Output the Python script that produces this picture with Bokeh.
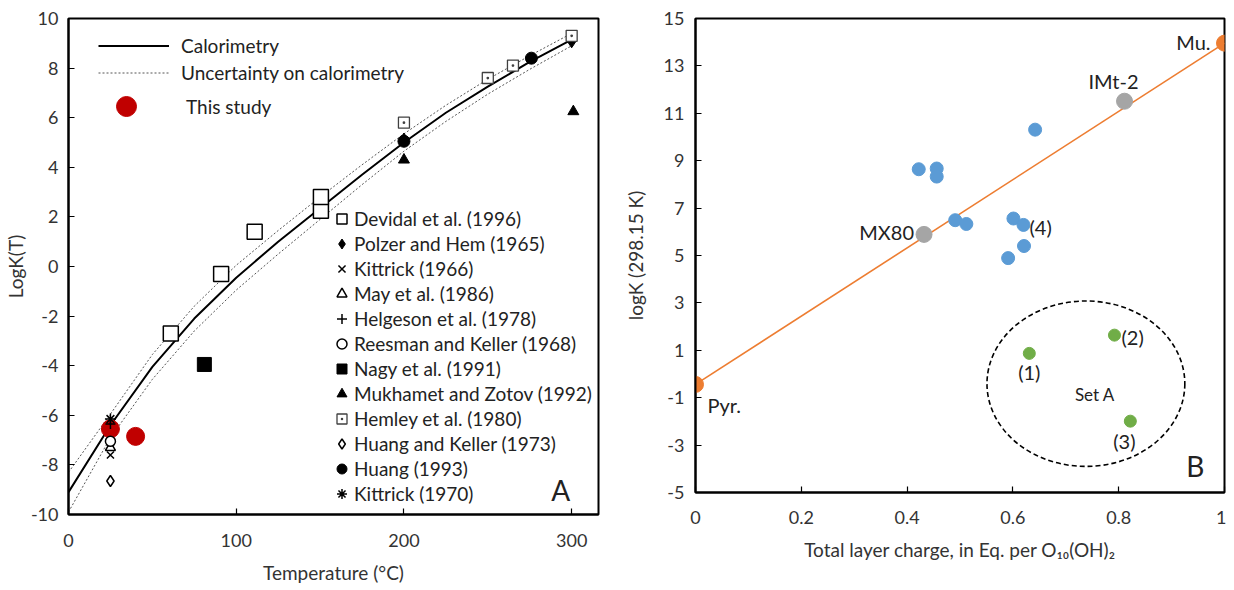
from bokeh.plotting import figure
from bokeh.layouts import row
from bokeh.models import Legend, LegendItem, FixedTicker, Label, ColumnDataSource
from bokeh.core.properties import value
from bokeh.embed import file_html
from bokeh.resources import INLINE

FONT = "Lato"

# ---------------- Panel A data ----------------
calo_T = [0, 25, 50, 75, 100, 125, 150, 175, 200, 225, 250, 275, 300]
calo_logK = [-9.1, -6.4, -4.05, -2.1, -0.45, 1.0, 2.35, 3.7, 5.0, 6.2, 7.25, 8.25, 9.15]
upper_logK = [-8.3, -5.95, -3.55, -1.6, 0.05, 1.45, 2.8, 4.1, 5.35, 6.5, 7.55, 8.5, 9.4]
lower_logK = [-9.9, -6.9, -4.55, -2.6, -0.95, 0.5, 1.9, 3.3, 4.65, 5.85, 6.95, 7.95, 8.9]

devidal_T = [61, 91, 111, 150.5, 150.5]
devidal_logK = [-2.7, -0.3, 1.4, 2.25, 2.8]
polzer_T = [200, 300]
polzer_logK = [5.1, 9.1]
kittrick66_T = [25]
kittrick66_logK = [-7.6]
may_T = [25]
may_logK = [-7.3]
helgeson_T = [25]
helgeson_logK = [-6.35]
reesman_T = [25]
reesman_logK = [-7.05]
nagy_T = [81]
nagy_logK = [-3.95]
mukhamet_T = [200, 301]
mukhamet_logK = [4.3, 6.25]
hemley_T = [200, 250, 265, 300]
hemley_logK = [5.8, 7.6, 8.1, 9.3]
huangkeller_T = [25]
huangkeller_logK = [-8.65]
huang93_T = [200, 276]
huang93_logK = [5.05, 8.4]
kittrick70_T = [25]
kittrick70_logK = [-6.15]
study_T = [25, 40]
study_logK = [-6.55, -6.85]

A_xticks = [0, 100, 200, 300]
A_yticks = list(range(-10, 11, 2))

# ---------------- Panel B data ----------------
end_x = [0.0, 1.0]          # Pyr., Mu.
end_y = [-0.44, 13.96]
ref_x = [0.432, 0.811]      # MX80, IMt-2
ref_y = [5.89, 11.51]
blue_x = [0.422, 0.456, 0.456, 0.491, 0.512, 0.601, 0.620, 0.642, 0.591, 0.621]
blue_y = [8.64, 8.67, 8.33, 6.49, 6.33, 6.56, 6.29, 10.31, 4.89, 5.40]
green_x = [0.631, 0.792, 0.822]
green_y = [0.87, 1.64, -1.99]
setA_center = (0.738, -0.41)
setA_size = (0.374, 6.98)

B_xticks = [0, 0.2, 0.4, 0.6, 0.8, 1]
B_xlabels = ["0", "0.2", "0.4", "0.6", "0.8", "1"]
B_yticks = list(range(-5, 16, 2))


def style(p):
    p.xgrid.visible = False
    p.ygrid.visible = False
    p.outline_line_color = "black"
    p.outline_line_width = 2
    p.outline_line_alpha = 1
    p.background_fill_color = "white"
    p.border_fill_color = "white"
    for ax in p.axis:
        ax.axis_line_width = 2
        ax.axis_line_color = "black"
        ax.major_tick_in = 6
        ax.major_tick_out = 0
        ax.major_tick_line_width = 1.2
        ax.minor_tick_line_color = None
        ax.major_label_text_font = FONT
        ax.major_label_text_font_size = "18px"
        ax.major_label_text_color = "#333333"
        ax.axis_label_text_font = FONT
        ax.axis_label_text_font_size = "19px"
        ax.axis_label_text_font_style = "normal"
        ax.axis_label_text_color = "#333333"


def hyphen_labels(ticks):
    return {t: str(t) for t in ticks}


# ================= Panel A =================
p1 = figure(width=608, height=586, x_range=(0, 316), y_range=(-10, 10),
            output_backend="svg", toolbar_location=None,
            min_border_left=67, min_border_right=10, min_border_top=18, min_border_bottom=72)
style(p1)
p1.xaxis.ticker = FixedTicker(ticks=A_xticks)
p1.yaxis.ticker = FixedTicker(ticks=A_yticks)
p1.yaxis.major_label_overrides = hyphen_labels(A_yticks)
p1.xaxis.axis_label = "Temperature (°C)"
p1.yaxis.axis_label = "LogK(T)"
p1.xaxis.major_label_standoff = 19
p1.xaxis.axis_label_standoff = 11
p1.yaxis.major_label_standoff = 10
p1.yaxis.axis_label_standoff = 1

r_up = p1.line(calo_T, upper_logK, line_color="#555555", line_dash="2 2", line_width=1)
r_lo = p1.line(calo_T, lower_logK, line_color="#555555", line_dash="2 2", line_width=1)
r_calo = p1.line(calo_T, calo_logK, line_color="black", line_width=2)

r_study = p1.scatter(study_T, study_logK, marker="circle", size=18, fill_color="#c00000",
                     line_color="#c00000")

r_dev = p1.scatter(devidal_T, devidal_logK, marker="square", size=15, fill_color="white",
                   line_color="black", line_width=1.5)
r_pol = p1.scatter(polzer_T, polzer_logK, marker="diamond", size=14, fill_color="black",
                   line_color="black")
r_k66 = p1.scatter(kittrick66_T, kittrick66_logK, marker="x", size=10, line_color="black",
                   line_width=1.5)
r_may = p1.scatter(may_T, may_logK, marker="triangle", size=10, fill_color="white",
                   line_color="black", line_width=1.5)
r_hel = p1.scatter(helgeson_T, helgeson_logK, marker="cross", size=10, line_color="black",
                   line_width=1.5)
r_ree = p1.scatter(reesman_T, reesman_logK, marker="circle", size=10, fill_color="white",
                   line_color="black", line_width=1.5)
r_nag = p1.scatter(nagy_T, nagy_logK, marker="square", size=14, fill_color="black",
                   line_color="black")
r_muk = p1.scatter(mukhamet_T, mukhamet_logK, marker="triangle", size=11, fill_color="black",
                   line_color="black")
r_hem = p1.scatter(hemley_T, hemley_logK, marker="square_dot", size=11, fill_color="white",
                   line_color="#404040", line_width=1.3)
r_hk = p1.scatter(huangkeller_T, huangkeller_logK, marker="diamond", size=11, fill_color="white",
                  line_color="black", line_width=1.5)
r_h93 = p1.scatter(huang93_T, huang93_logK, marker="circle", size=12, fill_color="black",
                   line_color="black")
r_k70 = p1.scatter(kittrick70_T, kittrick70_logK, marker="asterisk", size=11, line_color="black",
                   line_width=1.5)

common = dict(padding=0, margin=0, spacing=0, border_line_color=None, background_fill_alpha=0,
              label_text_font=FONT, label_text_font_size="19px", label_text_color="#222222")

legA = Legend(items=[LegendItem(label="Calorimetry", renderers=[r_calo]),
                     LegendItem(label="Uncertainty on calorimetry", renderers=[r_up])],
              location=(30, 428), glyph_width=71, glyph_height=27, label_height=27,
              label_standoff=12, **common)
legB = Legend(items=[LegendItem(label="This study", renderers=[r_study])],
              location=(30, 383), glyph_width=56, glyph_height=50, label_height=50,
              label_standoff=32, **common)
legC = Legend(items=[
    LegendItem(label="Devidal et al. (1996)", renderers=[r_dev]),
    LegendItem(label="Polzer and Hem (1965)", renderers=[r_pol]),
    LegendItem(label="Kittrick (1966)", renderers=[r_k66]),
    LegendItem(label="May et al. (1986)", renderers=[r_may]),
    LegendItem(label="Helgeson et al. (1978)", renderers=[r_hel]),
    LegendItem(label="Reesman and Keller (1968)", renderers=[r_ree]),
    LegendItem(label="Nagy et al. (1991)", renderers=[r_nag]),
    LegendItem(label="Mukhamet and Zotov (1992)", renderers=[r_muk]),
    LegendItem(label="Hemley et al. (1980)", renderers=[r_hem]),
    LegendItem(label="Huang and Keller (1973)", renderers=[r_hk]),
    LegendItem(label="Huang (1993)", renderers=[r_h93]),
    LegendItem(label="Kittrick (1970)", renderers=[r_k70]),
], location=(261, 8), glyph_width=25, glyph_height=25, label_height=25, label_standoff=0,
    **common)
for lg in (legA, legB, legC):
    p1.add_layout(lg)

p1.add_layout(Label(x=293.5, y=-9.0, text="A", text_align="center", text_baseline="middle",
                    text_font=FONT, text_font_size="28px", text_color="#222222"))

# ================= Panel B =================
p2 = figure(width=618, height=564, x_range=(0, 1), y_range=(-5, 15),
            output_backend="svg", toolbar_location=None,
            min_border_left=87, min_border_right=2, min_border_top=18, min_border_bottom=72)
style(p2)
p2.xaxis.ticker = FixedTicker(ticks=B_xticks)
p2.xaxis.major_label_overrides = dict(zip(B_xticks, B_xlabels))
p2.yaxis.ticker = FixedTicker(ticks=B_yticks)
p2.yaxis.major_label_overrides = hyphen_labels(B_yticks)
p2.xaxis.axis_label = "Total layer charge, in Eq. per O\u2081\u2080(OH)\u2082"
p2.yaxis.axis_label = "logK (298.15 K)"
p2.xaxis.major_label_standoff = 18
p2.xaxis.axis_label_standoff = 11
p2.yaxis.major_label_standoff = 11
p2.yaxis.axis_label_standoff = 14

p2.ellipse(x=[setA_center[0]], y=[setA_center[1]], width=[setA_size[0]], height=[setA_size[1]],
           fill_color=None, line_color="black", line_dash="5 3", line_width=1.6)
p2.line(end_x, end_y, line_color="#ed7d31", line_width=1.6)
p2.scatter(blue_x, blue_y, marker="circle", size=13, fill_color="#5b9bd5", line_color="#5b9bd5")
p2.scatter(green_x, green_y, marker="circle", size=12, fill_color="#70ad47", line_color="#70ad47")
p2.scatter(ref_x, ref_y, marker="circle", size=16, fill_color="#a5a5a5", line_color="#a5a5a5")
p2.scatter(end_x, end_y, marker="circle", size=16, fill_color="#ed7d31", line_color="#ed7d31")

lab = dict(text=[], x=[], y=[], dx=[], dy=[], align=[], fs=[])
def add_label(t, x, y, dx, dy, align, fs="20px"):
    lab["text"].append(t); lab["x"].append(x); lab["y"].append(y)
    lab["dx"].append(dx); lab["dy"].append(dy); lab["align"].append(align); lab["fs"].append(fs)

add_label("Mu.", end_x[1], end_y[1], -14, -1, "right")
add_label("IMt-2", ref_x[1], ref_y[1], -11, -20, "center")
add_label("MX80", ref_x[0], ref_y[0], -10, -2, "right")
add_label("Pyr.", end_x[0], end_y[0], 12, 21, "left")
add_label("(4)", blue_x[6], blue_y[6], 6, 2, "left")
add_label("(1)", green_x[0], green_y[0], 0, 19, "center")
add_label("(2)", green_x[1], green_y[1], 7, 2, "left")
add_label("(3)", green_x[2], green_y[2], -6, 20, "center")
add_label("Set A", setA_center[0], setA_center[1], 9, 11, "center", "17px")
p2.text(x="x", y="y", text="text", x_offset="dx", y_offset="dy", text_align="align",
        text_font_size="fs", text_baseline="middle", text_font=value(FONT),
        text_color="#222222", source=ColumnDataSource(lab))

p2.add_layout(Label(x=0.945, y=-3.9, text="B", text_align="center", text_baseline="middle",
                    text_font=FONT, text_font_size="28px", text_color="#222222"))

layout = row(p1, p2)
open("out.html", "w").write(file_html(layout, INLINE))
